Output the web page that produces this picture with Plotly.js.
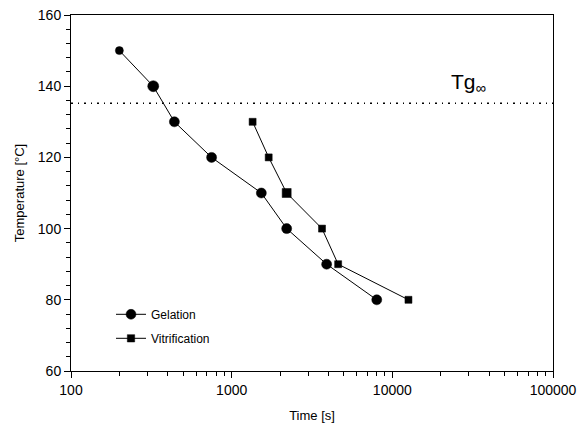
<!DOCTYPE html>
<html>
<head>
<meta charset="utf-8">
<script src="https://cdn.plot.ly/plotly-3.0.1.min.js"></script>
<style>
html,body{margin:0;padding:0;background:#fff;}
#chart{width:580px;height:432px;}
#chart path.point, #chart .legendpoints path.scatterpts{fill:#000 !important; fill-opacity:1 !important; opacity:1 !important; stroke:#000 !important;}
</style>
</head>
<body>
<div id="chart"></div>
<script>
// Data
const gelationTime = [200, 325, 440, 750, 1530, 2200, 3900, 8000];
const gelationTemp = [150, 140, 130, 120, 110, 100, 90, 80];
const vitrificationTime = [1350, 1700, 2200, 3650, 4600, 12600];
const vitrificationTemp = [130, 120, 110, 100, 90, 80];
const tgInf = 135.2;
const xTickVals = [100, 1000, 10000, 100000];
const xTickText = ['100', '1000', '10000', '100000'];
const yTickVals = [60, 80, 100, 120, 140, 160];

const font = {family: 'Arial, Liberation Sans, sans-serif', size: 13, color: '#000'};
const tickFont = {family: 'Arial, Liberation Sans, sans-serif', size: 14, color: '#000'};

const traces = [
  {
    x: gelationTime, y: gelationTemp, name: 'Gelation', type: 'scatter', mode: 'lines+markers',
    line: {color: '#000', width: 1},
    marker: {symbol: 'circle', color: '#000', opacity: 1, size: [8, 11, 10, 10, 10, 10, 10, 10],
             line: {color: '#000', width: 0.5}},
    legendgroup: 'g'
  },
  {
    x: vitrificationTime, y: vitrificationTemp, name: 'Vitrification', type: 'scatter', mode: 'lines+markers',
    line: {color: '#000', width: 1},
    marker: {symbol: 'square', color: '#000', opacity: 1, size: [7, 7, 9, 7, 7, 7],
             line: {color: '#000', width: 0.5}},
    legendgroup: 'v'
  }
];

const layout = {
  width: 580, height: 432,
  margin: {l: 71, r: 27, t: 15, b: 61},
  paper_bgcolor: '#fff', plot_bgcolor: '#fff',
  font: font,
  showlegend: true,
  legend: {
    x: 0.083, y: 0.2, xanchor: 'left', yanchor: 'top',
    bgcolor: 'rgba(0,0,0,0)', borderwidth: 0,
    font: {family: 'Arial, Liberation Sans, sans-serif', size: 12, color: '#000'},
    traceorder: 'grouped', tracegroupgap: 5
  },
  xaxis: {
    type: 'log', range: [2, 5],
    tickmode: 'array', tickvals: xTickVals, ticktext: xTickText,
    ticks: 'outside', ticklen: 6, tickwidth: 1, tickcolor: '#000',
    minor: {ticks: 'outside', ticklen: 4, tickwidth: 1, tickcolor: '#000', dtick: 'D1', showgrid: false},
    showline: true, linecolor: '#000', linewidth: 1, mirror: true,
    showgrid: false, zeroline: false,
    tickfont: tickFont,
    title: {text: 'Time [s]', font: font, standoff: 14}
  },
  yaxis: {
    range: [60, 160],
    tickmode: 'array', tickvals: yTickVals,
    ticks: 'outside', ticklen: 6, tickwidth: 1, tickcolor: '#000',
    minor: {ticks: 'outside', ticklen: 4, tickwidth: 1, tickcolor: '#000', dtick: 4, showgrid: false},
    showline: true, linecolor: '#000', linewidth: 1, mirror: true,
    showgrid: false, zeroline: false,
    tickfont: tickFont,
    title: {text: 'Temperature [°C]', font: font, standoff: 10}
  },
  shapes: [
    {type: 'line', xref: 'paper', x0: 0, x1: 1, yref: 'y', y0: tgInf, y1: tgInf,
     line: {color: '#000', width: 1.5, dash: '2px,5px,1px,5px'}}
  ],
  annotations: [
    {xref: 'paper', x: 0.785, yref: 'y', y: tgInf + 1.5, xanchor: 'left', yanchor: 'bottom',
     text: 'Tg<sub>∞</sub>', showarrow: false,
     font: {family: 'Arial, Liberation Sans, sans-serif', size: 21, color: '#000'}}
  ]
};

Plotly.newPlot('chart', traces, layout, {displayModeBar: false, staticPlot: true});
</script>
</body>
</html>
